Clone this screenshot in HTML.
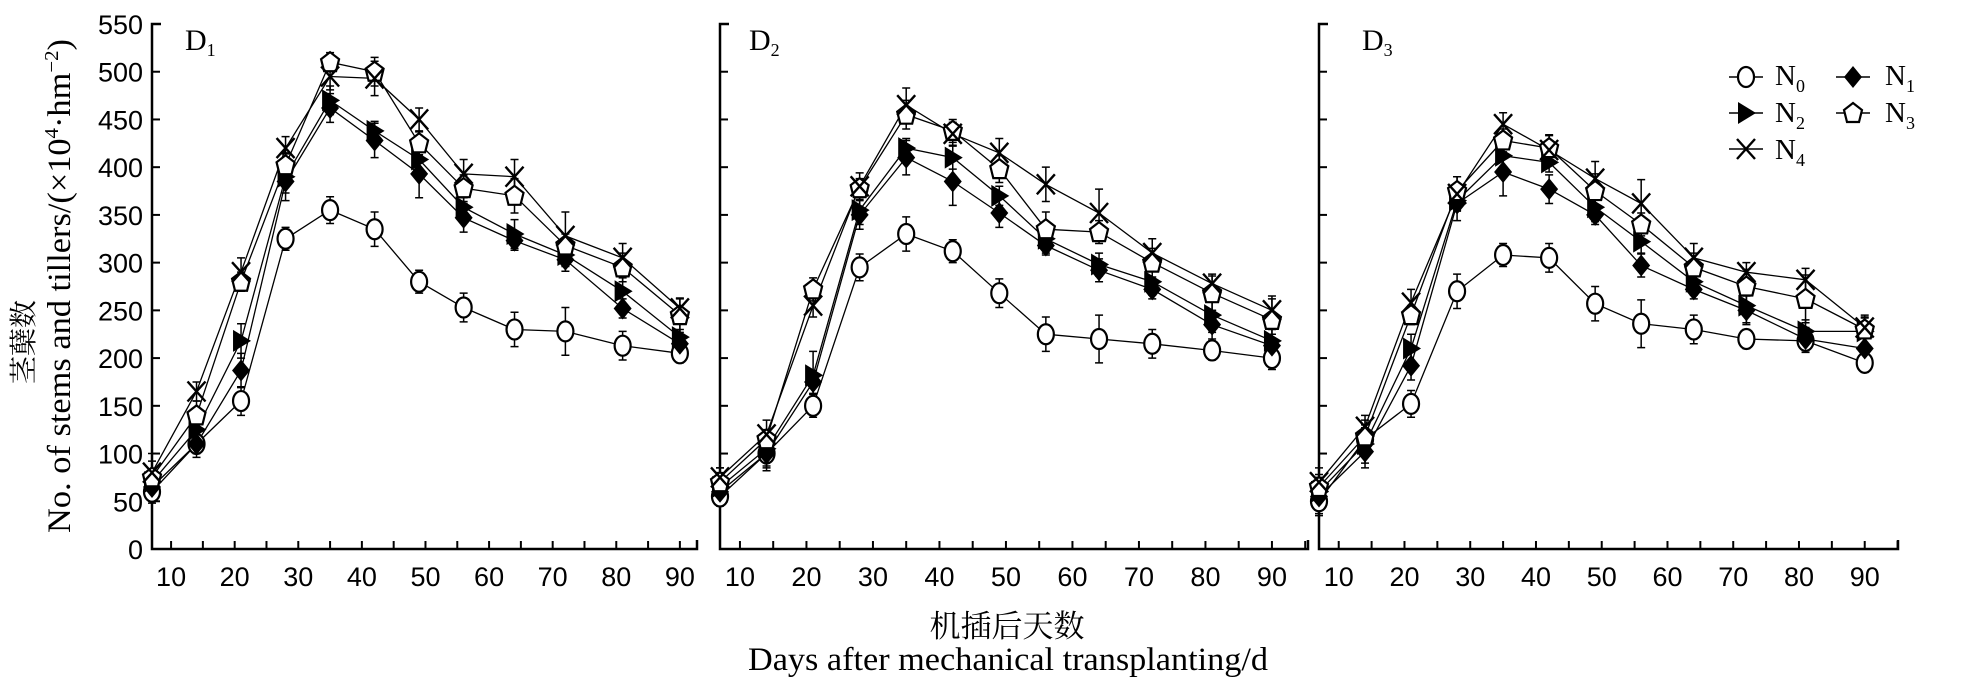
<!DOCTYPE html>
<html><head><meta charset="utf-8"><style>
html,body{margin:0;padding:0;background:#fff;}
svg{display:block;}
</style></head><body>
<svg id="s" width="1961" height="696" xmlns="http://www.w3.org/2000/svg" font-family="Liberation Sans, sans-serif">
<text transform="translate(33,342) rotate(-90)" text-anchor="middle" font-family="Noto Serif CJK SC, Noto Sans CJK SC, serif" font-size="28">茎蘖数</text>
<text transform="translate(70,286) rotate(-90)" text-anchor="middle" font-family="Liberation Serif, serif" font-size="33" textLength="494" lengthAdjust="spacingAndGlyphs">No. of stems and tillers/(×10<tspan font-size="20" dy="-12">4</tspan><tspan dy="12">·hm</tspan><tspan font-size="20" dy="-12">−2</tspan><tspan dy="12">)</tspan></text>
<text x="1007" y="637" text-anchor="middle" font-family="Noto Serif CJK SC, Noto Sans CJK SC, serif" font-size="31">机插后天数</text>
<text x="1008" y="670" text-anchor="middle" font-family="Liberation Serif, serif" font-size="33" textLength="520" lengthAdjust="spacingAndGlyphs">Days after mechanical transplanting/d</text>
</svg>
<script>
var S=document.getElementById('s'),NS='http://www.w3.org/2000/svg';
function el(t,a,txt){var e=document.createElementNS(NS,t);for(var k in a)e.setAttribute(k,a[k]);if(txt!=null)e.textContent=txt;S.appendChild(e);return e;}
var y0=549,yk=(549-24)/550;
function Y(v){return y0-v*yk;}
var days=[7,14,21,28,35,42,49,56,64,72,81,90];
var P=[
{ax:152,end:697,k:6.36,lab:'1',lx:185,yl:true,data:[
[60,110,155,325,355,335,280,253,230,228,213,205],
[65,110,187,385,462,428,393,347,323,303,252,215],
[70,125,218,390,470,438,408,358,330,308,270,222],
[75,140,280,402,510,500,425,378,370,318,295,245],
[80,165,290,420,495,493,450,393,390,328,305,252]]},
{ax:720,end:1308,k:6.65,lab:'2',lx:749,data:[
[55,100,150,295,330,312,268,225,220,215,208,200],
[60,100,175,350,410,385,352,318,292,272,235,213],
[65,105,182,355,420,410,370,325,298,280,245,218],
[70,115,272,378,455,438,398,335,332,300,268,240],
[75,120,255,380,465,435,415,382,352,310,278,250]]},
{ax:1319,end:1898,k:6.575,lab:'3',lx:1362,data:[
[50,115,152,270,308,305,257,236,230,220,218,195],
[55,102,192,362,395,377,350,297,272,250,220,210],
[60,110,210,365,412,405,358,322,280,255,228,228],
[65,118,245,375,428,420,375,340,295,275,262,230],
[70,128,258,372,445,418,388,362,305,290,282,232]]}];
var err=[12,10,15,12,14,18,12,15,18,25,15,10];
function marker(t,x,y){
 if(t==0){el('ellipse',{cx:x,cy:y,rx:8,ry:10,fill:'#fff',stroke:'#000','stroke-width':2.2});}
 else if(t==1){el('polygon',{points:(x)+','+(y-11)+' '+(x+9)+','+y+' '+x+','+(y+11)+' '+(x-9)+','+y,fill:'#000'});}
 else if(t==2){el('polygon',{points:(x-8)+','+(y-11)+' '+(x+10)+','+y+' '+(x-8)+','+(y+11),fill:'#000'});}
 else if(t==3){el('polygon',{points:x+','+(y-10)+' '+(x+9)+','+(y-3)+' '+(x+6)+','+(y+9)+' '+(x-6)+','+(y+9)+' '+(x-9)+','+(y-3),fill:'#fff',stroke:'#000','stroke-width':2.2});}
 else {el('path',{d:'M'+(x-9)+' '+(y-10)+'L'+(x+9)+' '+(y+10)+'M'+(x+9)+' '+(y-10)+'L'+(x-9)+' '+(y+10),stroke:'#000','stroke-width':2.4,fill:'none'});}
}
P.forEach(function(p,pi){
 function X(d){return p.ax+(d-7)*p.k;}
 el('path',{d:'M'+(p.ax+9)+' 24H'+p.ax+'V'+y0+'H'+p.end+'v-9',stroke:'#000','stroke-width':2.5,fill:'none'});
 for(var v=0;v<=550;v+=50){var yy=Y(v);el('line',{x1:p.ax,y1:yy,x2:p.ax+8,y2:yy,stroke:'#000','stroke-width':2});
  if(p.yl)el('text',{x:p.ax-9,y:yy+10,'text-anchor':'end','font-size':27},v);}
 for(var d=10;d<=95;d+=5){var xx=X(d);if(xx>p.end)break;el('line',{x1:xx,y1:y0,x2:xx,y2:y0-8,stroke:'#000','stroke-width':2});
  if(d%10==0)el('text',{x:xx,y:586,'text-anchor':'middle','font-size':27},d);}
 var t=el('text',{x:p.lx,y:50,'font-family':'Liberation Serif, serif','font-size':30},'D');
 var ts=document.createElementNS(NS,'tspan');ts.setAttribute('font-size','18');ts.setAttribute('dy','6');ts.textContent=p.lab;t.appendChild(ts);
 p.data.forEach(function(s,si){
  var d='';s.forEach(function(v,i){d+=(i?'L':'M')+X(days[i]).toFixed(1)+' '+Y(v).toFixed(1);});
  el('path',{d:d,stroke:'#000','stroke-width':1.3,fill:'none'});
 });
 p.data.forEach(function(s,si){
  s.forEach(function(v,i){var x=X(days[i]),e=err[(i+si*3+pi)%12]*yk;
   el('path',{d:'M'+x+' '+(Y(v)-e)+'V'+(Y(v)+e)+'M'+(x-4)+' '+(Y(v)-e)+'h8M'+(x-4)+' '+(Y(v)+e)+'h8',stroke:'#000','stroke-width':1.5,fill:'none'});
  });
 });
 [0,1,2,3,4].forEach(function(si){p.data[si].forEach(function(v,i){marker(si,X(days[i]),Y(v));});});
});
var L=[[0,1746,77,1775,85,'0'],[1,1853,77,1885,85,'1'],[2,1746,113,1775,122,'2'],[3,1853,113,1885,122,'3'],[4,1746,149,1775,159,'4']];
L.forEach(function(l){el('line',{x1:l[1]-17,y1:l[2],x2:l[1]+17,y2:l[2],stroke:'#000','stroke-width':1.5});marker(l[0],l[1],l[2]);
 var t=el('text',{x:l[3],y:l[4],'font-family':'Liberation Serif, serif','font-size':29},'N');
 var ts=document.createElementNS(NS,'tspan');ts.setAttribute('font-size','18');ts.setAttribute('dy','7');ts.textContent=l[5];t.appendChild(ts);});
</script>
</body></html>
